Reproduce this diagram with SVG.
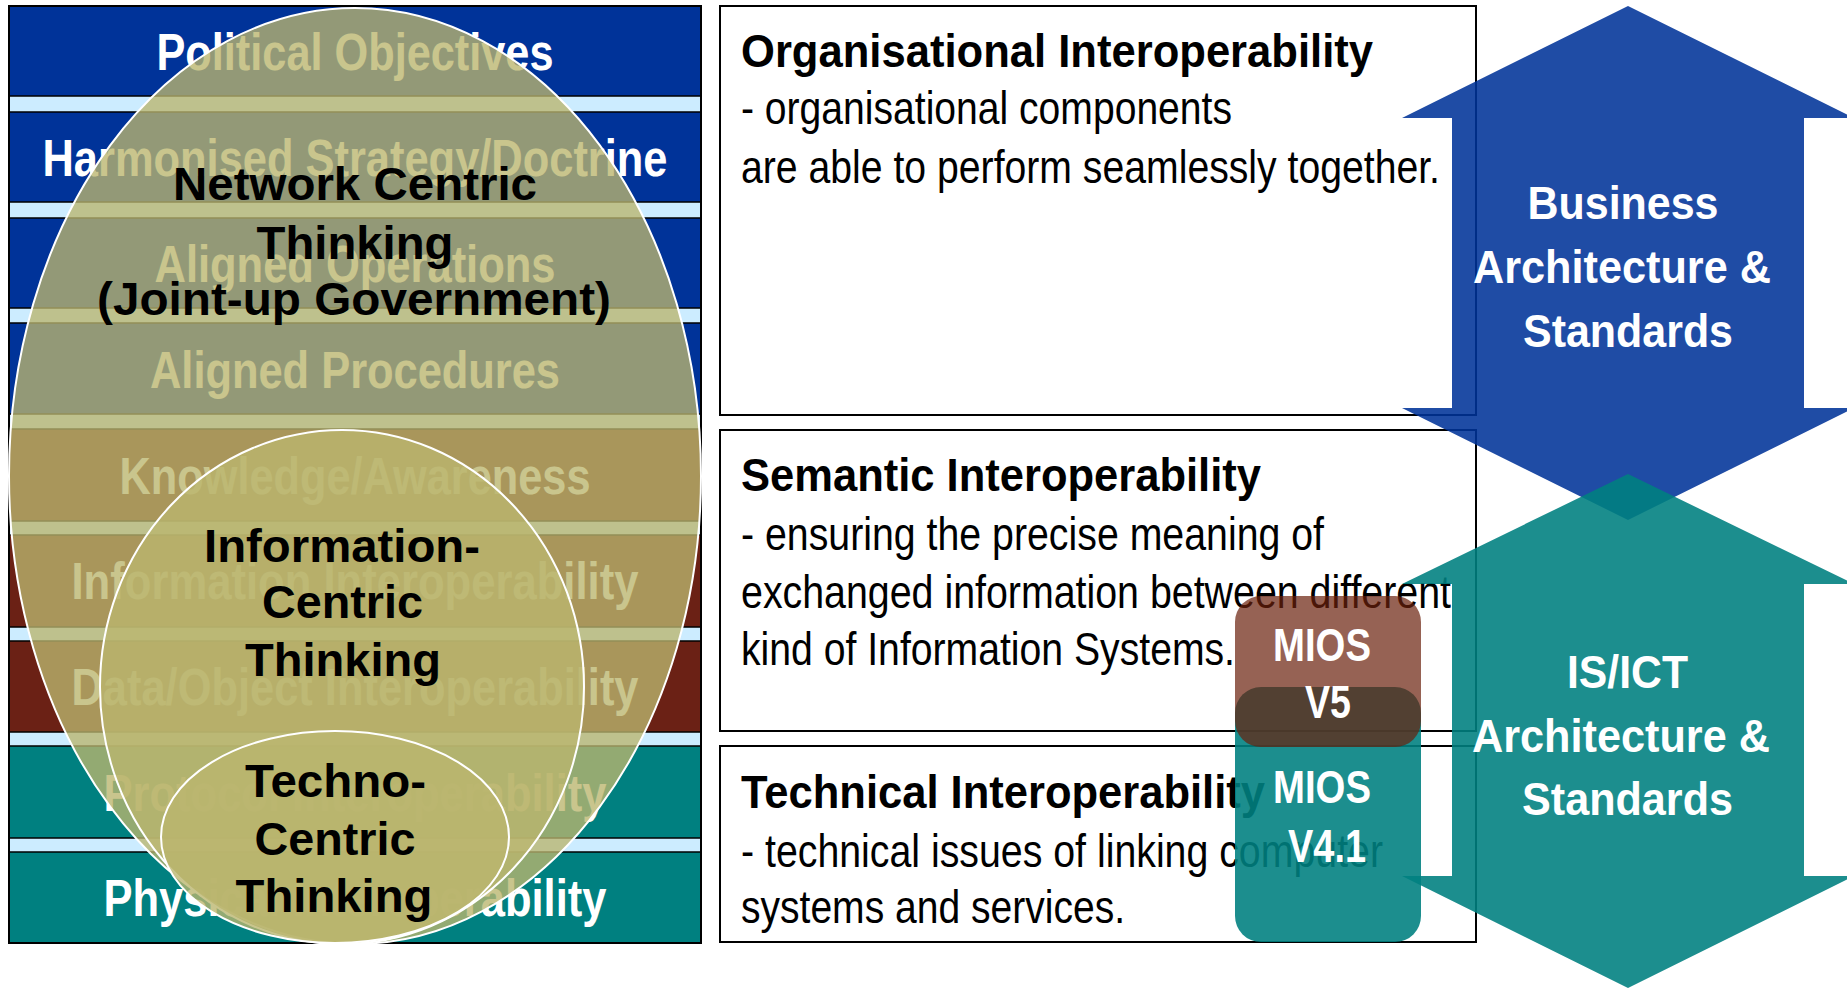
<svg xmlns="http://www.w3.org/2000/svg" width="1847" height="988" viewBox="0 0 1847 988">
<style>
text{font-family:"Liberation Sans",Arial,sans-serif}
.lbl{font-size:52px;font-weight:bold;fill:#fff;text-anchor:middle}
.lb{stroke:#000;stroke-width:1.5}
.blue{fill:#003399}
.red{fill:#6B2115}
.teal{fill:#008080}
.ell{fill:#BBB56F;fill-opacity:.79;stroke:#fff;stroke-width:2}
.et{font-size:47px;font-weight:bold;fill:#000;text-anchor:middle}
.box{fill:#fff;stroke:#000;stroke-width:2}
.bt{font-size:46px;font-weight:bold;fill:#000}
.bb{font-size:46px;fill:#000}
.at{font-size:47px;font-weight:bold;fill:#fff;text-anchor:middle}
.mt{font-size:47px;font-weight:bold;fill:#fff;text-anchor:middle}
</style>
<rect width="1847" height="988" fill="#fff"/>

<g id="layers">
<rect x="9" y="6" width="692" height="937" fill="#CCECFF"/>
<rect class="blue lb" x="9" y="6" width="692" height="90"/>
<rect class="blue lb" x="9" y="112" width="692" height="90"/>
<rect class="blue lb" x="9" y="218" width="692" height="90"/>
<rect class="blue lb" x="9" y="323" width="692" height="91"/>
<rect class="red lb" x="9" y="429" width="692" height="92"/>
<rect class="red lb" x="9" y="535" width="692" height="92"/>
<rect class="red lb" x="9" y="641" width="692" height="91"/>
<rect class="teal lb" x="9" y="746" width="692" height="92"/>
<rect class="teal lb" x="9" y="852" width="692" height="91"/>
<text class="lbl" x="355" y="70" textLength="397" lengthAdjust="spacingAndGlyphs">Political Objectives</text>
<text class="lbl" x="355" y="176" textLength="625" lengthAdjust="spacingAndGlyphs">Harmonised Strategy/Doctrine</text>
<text class="lbl" x="355" y="282" textLength="401" lengthAdjust="spacingAndGlyphs">Aligned Operations</text>
<text class="lbl" x="355" y="388" textLength="410" lengthAdjust="spacingAndGlyphs">Aligned Procedures</text>
<text class="lbl" x="355" y="494" textLength="471" lengthAdjust="spacingAndGlyphs">Knowledge/Awareness</text>
<text class="lbl" x="355" y="599" textLength="567" lengthAdjust="spacingAndGlyphs">Information Interoperability</text>
<text class="lbl" x="355" y="705" textLength="567" lengthAdjust="spacingAndGlyphs">Data/Object Interoperability</text>
<text class="lbl" x="355" y="811" textLength="503" lengthAdjust="spacingAndGlyphs">Protocol Interoperability</text>
<text class="lbl" x="355" y="916" textLength="503" lengthAdjust="spacingAndGlyphs">Physical Interoperability</text>
<rect x="9" y="6" width="692" height="937" fill="none" stroke="#000" stroke-width="2"/>
</g>

<g id="network-centric">
<ellipse class="ell" cx="355" cy="476" rx="346" ry="468"/>
<text class="et" x="355" y="200" textLength="364" lengthAdjust="spacingAndGlyphs">Network Centric</text>
<text class="et" x="355" y="259" textLength="197" lengthAdjust="spacingAndGlyphs">Thinking</text>
<text class="et" x="354" y="315" textLength="514" lengthAdjust="spacingAndGlyphs">(Joint-up Government)</text>
</g>

<g id="information-centric">
<ellipse class="ell" cx="342" cy="687" rx="242" ry="257"/>
<text class="et" x="342" y="562" textLength="276" lengthAdjust="spacingAndGlyphs">Information-</text>
<text class="et" x="342.5" y="618" textLength="161" lengthAdjust="spacingAndGlyphs">Centric</text>
<text class="et" x="343" y="676" textLength="196" lengthAdjust="spacingAndGlyphs">Thinking</text>
</g>

<g id="techno-centric">
<ellipse class="ell" cx="335" cy="837" rx="174" ry="106"/>
<text class="et" x="335.5" y="797" textLength="181" lengthAdjust="spacingAndGlyphs">Techno-</text>
<text class="et" x="335" y="855" textLength="161" lengthAdjust="spacingAndGlyphs">Centric</text>
<text class="et" x="334" y="912" textLength="197" lengthAdjust="spacingAndGlyphs">Thinking</text>
</g>

<g id="organisational">
<rect class="box" x="720" y="6" width="756" height="409"/>
<text class="bt" x="741" y="67" textLength="632" lengthAdjust="spacingAndGlyphs">Organisational Interoperability</text>
<text class="bb" x="741" y="124" textLength="491" lengthAdjust="spacingAndGlyphs">- organisational components</text>
<text class="bb" x="741" y="183" textLength="699" lengthAdjust="spacingAndGlyphs">are able to perform seamlessly together.</text>
</g>

<g id="semantic">
<rect class="box" x="720" y="430" width="756" height="301"/>
<text class="bt" x="741" y="491" textLength="520" lengthAdjust="spacingAndGlyphs">Semantic Interoperability</text>
<text class="bb" x="741" y="550" textLength="583" lengthAdjust="spacingAndGlyphs">- ensuring the precise meaning of</text>
<text class="bb" x="741" y="608" textLength="710" lengthAdjust="spacingAndGlyphs">exchanged information between different</text>
<text class="bb" x="741" y="665" textLength="494" lengthAdjust="spacingAndGlyphs">kind of Information Systems.</text>
</g>

<g id="technical">
<rect class="box" x="720" y="746" width="756" height="196"/>
<text class="bt" x="741" y="808" textLength="524" lengthAdjust="spacingAndGlyphs">Technical Interoperability</text>
<text class="bb" x="741" y="867" textLength="642" lengthAdjust="spacingAndGlyphs">- technical issues of linking computer</text>
<text class="bb" x="741" y="923" textLength="384" lengthAdjust="spacingAndGlyphs">systems and services.</text>
</g>

<g id="mios">
<rect x="1235" y="687" width="186" height="255" rx="26" fill="#008080" fill-opacity="0.89"/>
<rect x="1235" y="596" width="186" height="151" rx="26" fill="#691F0C" fill-opacity="0.7"/>
<text class="mt" x="1322" y="661" textLength="98" lengthAdjust="spacingAndGlyphs">MIOS</text>
<text class="mt" x="1328" y="718" textLength="46" lengthAdjust="spacingAndGlyphs">V5</text>
<text class="mt" x="1322" y="803" textLength="98" lengthAdjust="spacingAndGlyphs">MIOS</text>
<text class="mt" x="1327" y="862" textLength="78" lengthAdjust="spacingAndGlyphs">V4.1</text>
</g>

<g id="business-arrow">
<polygon points="1628,6 1854,118 1804,118 1804,408 1854,408 1628,520 1402,408 1452,408 1452,118 1402,118" fill="#003399" fill-opacity="0.88"/>
<text class="at" x="1623" y="219" textLength="191" lengthAdjust="spacingAndGlyphs">Business</text>
<text class="at" x="1622" y="283" textLength="298" lengthAdjust="spacingAndGlyphs">Architecture &amp;</text>
<text class="at" x="1628" y="347" textLength="210" lengthAdjust="spacingAndGlyphs">Standards</text>
</g>

<g id="isict-arrow">
<polygon points="1628,474 1854,584 1804,584 1804,876 1854,876 1628,988 1402,876 1452,876 1452,584 1402,584" fill="#008080" fill-opacity="0.89"/>
<text class="at" x="1627.5" y="688" textLength="121" lengthAdjust="spacingAndGlyphs">IS/ICT</text>
<text class="at" x="1621" y="752" textLength="298" lengthAdjust="spacingAndGlyphs">Architecture &amp;</text>
<text class="at" x="1627.5" y="815" textLength="211" lengthAdjust="spacingAndGlyphs">Standards</text>
</g>

<g id="connectors"/>
</svg>
